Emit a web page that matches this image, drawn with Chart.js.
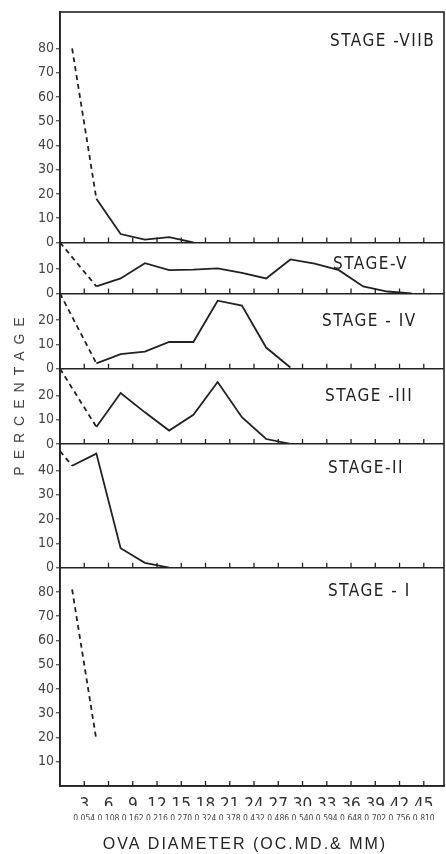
<!DOCTYPE html>
<html>
<head>
<meta charset="utf-8">
<title>Ova diameter frequency by maturity stage</title>
<script src="https://cdn.jsdelivr.net/npm/chart.js@4.4.1/dist/chart.umd.min.js"></script>
<style>
  html, body { margin: 0; padding: 0; background: #fff; }
  canvas { display: block; }
</style>
</head>
<body>
<canvas id="ovaChart" width="446" height="854"></canvas>
<script>
'use strict'
// class mid points in ocular micrometer divisions, 0 = dashed lead-in from the panel above
const ovaClass = [0, 1.5, 4.5, 7.5, 10.5, 13.5, 16.5, 19.5, 22.5, 25.5, 28.5, 31.5, 34.5, 37.5, 40.5, 43.5];
const xTicks = [3, 6, 9, 12, 15, 18, 21, 24, 27, 30, 33, 36, 39, 42, 45];
const mmLabels = ['0.054', '0.108', '0.162', '0.216', '0.270', '0.324', '0.378', '0.432',
  '0.486', '0.540', '0.594', '0.648', '0.702', '0.756', '0.810'];

const stageNames = ['STAGE -VIIB', 'STAGE-V', 'STAGE - IV', 'STAGE -III', 'STAGE-II', 'STAGE - I'];

// percentage per class, same order as ovaClass
const stageVIIB = [null, 80, 18, 3.5, 1.2, 2.2, 0, null, null, null, null, null, null, null, null, null];
const stageV = [21, null, 2.9, 6.2, 12.5, 9.6, 9.8, 10.3, 8.5, 6.2, 14, 12.3, 9.6, 2.9, 0.8, 0];
const stageIV = [31, null, 2.2, 6, 7, 11, 11, 28, 26, 8.7, 0.5, null, null, null, null, null];
const stageIII = [31, null, 7, 21, 13, 5.5, 12, 25.5, 11, 2, 0, null, null, null, null, null];
const stageII = [48, 42, 47, 8, 2, 0, null, null, null, null, null, null, null, null, null, null];
const stageI = [null, 81, 19, null, null, null, null, null, null, null, null, null, null, null, null, null];

const ticksVIIB = [0, 10, 20, 30, 40, 50, 60, 70, 80];
const ticksV = [0, 10];
const ticksIV = [0, 10, 20];
const ticksIII = [0, 10, 20];
const ticksII = [0, 10, 20, 30, 40];
const ticksI = [10, 20, 30, 40, 50, 60, 70, 80];

// top of each panel's y range
const panelMax = [95, 21, 31, 31, 51, 90];

const panelIds = ['yVIIB', 'yV', 'yIV', 'yIII', 'yII', 'yI'];
const panelData = [stageVIIB, stageV, stageIV, stageIII, stageII, stageI];
const panelTicks = [ticksVIIB, ticksV, ticksIV, ticksIII, ticksII, ticksI];

const ink = '#222';
const narrow = '"Liberation Sans Narrow", "DejaVu Sans Condensed", "Liberation Sans", sans-serif';

function yScale(i) {
  return {
    type: 'linear',
    position: 'left',
    stack: 'stages',
    stackWeight: panelMax[i],
    weight: panelIds.length - i,
    min: 0,
    max: panelMax[i],
    afterBuildTicks: s => { s.ticks = panelTicks[i].map(v => ({value: v})); },
    afterFit: s => { s.width = 60; },
    border: {display: true, color: ink, width: 1.6},
    grid: {
      color: c => (c.tick && c.tick.value === 0 ? ink : 'rgba(0,0,0,0)'),
      lineWidth: 1.6,
      tickColor: ink,
      tickLength: 4,
      tickWidth: 1
    },
    ticks: {
      color: '#444',
      padding: 2,
      autoSkip: false,
      font: {family: narrow, size: 14}
    }
  };
}

const scales = {
  x: {
    type: 'linear',
    position: 'bottom',
    min: 0,
    max: 47.5,
    weight: 0,
    afterBuildTicks: s => { s.ticks = xTicks.map(v => ({value: v})); },
    afterFit: s => { s.height = 20; },
    border: {display: true, color: ink, width: 1.6},
    grid: {display: false},
    ticks: {color: '#333', padding: 1, maxRotation: 0, autoSkip: false, font: {family: narrow, size: 17}}
  },
  xmm: {
    type: 'linear',
    position: 'bottom',
    min: 0,
    max: 47.5,
    weight: 1,
    afterBuildTicks: s => { s.ticks = xTicks.map(v => ({value: v})); },
    afterFit: s => { s.height = 14; },
    border: {display: false},
    grid: {display: false},
    ticks: {
      color: '#444', padding: 0, maxRotation: 0, autoSkip: false,
      font: {family: narrow, size: 8.5},
      callback: (v, i) => mmLabels[i]
    }
  }
};
panelIds.forEach((id, i) => { scales[id] = yScale(i); });

const datasets = panelIds.map((id, i) => {
  const values = panelData[i];
  const first = values.findIndex(v => v !== null);
  const second = values.findIndex((v, j) => j > first && v !== null);
  return {
    label: stageNames[i],
    yAxisID: id,
    data: ovaClass.map((x, j) => ({x: x, y: values[j]})),
    borderColor: ink,
    borderWidth: 1.8,
    pointRadius: 0,
    pointHoverRadius: 0,
    spanGaps: true,
    tension: 0,
    segment: {
      // the first stretch of every stage is drawn dashed
      borderDash: ctx => (ctx.p1DataIndex === second ? [5, 4] : undefined)
    }
  };
});

// frame, inner ticks on each baseline, stage names and axis titles
const labelX = [330, 333, 322, 325, 328, 328];
const labelOffset = [30, 22, 28, 28, 25, 24];
const decorations = {
  id: 'decorations',
  afterDraw(chart) {
    const {ctx, chartArea} = chart;
    const sc = chart.scales;
    ctx.save();
    ctx.strokeStyle = ink;
    ctx.lineWidth = 1.6;
    ctx.strokeRect(chartArea.left, chartArea.top, chartArea.width, chartArea.height);

    ctx.lineWidth = 1.3;
    panelIds.forEach(id => {
      const base = sc[id].getPixelForValue(0);
      ctx.beginPath();
      xTicks.forEach(v => {
        const px = sc.x.getPixelForValue(v);
        ctx.moveTo(px, base);
        ctx.lineTo(px, base - 5);
      });
      ctx.stroke();
    });

    ctx.fillStyle = '#222';
    ctx.textBaseline = 'middle';
    ctx.textAlign = 'left';
    ctx.font = '17px ' + narrow;
    ctx.letterSpacing = '1.5px';
    panelIds.forEach((id, i) => {
      ctx.fillText(stageNames[i], labelX[i], sc[id].top + labelOffset[i]);
    });

    ctx.fillStyle = '#444';
    ctx.textAlign = 'center';
    ctx.font = '14px "Liberation Sans", sans-serif';
    ctx.letterSpacing = '7px';
    ctx.save();
    ctx.translate(20, chartArea.top + 381);
    ctx.rotate(-Math.PI / 2);
    ctx.fillText('PERCENTAGE', 0, 0);
    ctx.restore();

    ctx.fillStyle = '#222';
    ctx.font = '16px "Liberation Sans", sans-serif';
    ctx.letterSpacing = '2px';
    ctx.fillText('OVA DIAMETER (OC.MD.& MM)', 245, chart.height - 9);
    ctx.restore();
  }
};

const chart = new Chart(document.getElementById('ovaChart'), {
  type: 'line',
  data: {datasets: datasets},
  options: {
    responsive: false,
    animation: false,
    layout: {padding: {top: 12, right: 2, bottom: 34, left: 0}},
    plugins: {legend: {display: false}, tooltip: {enabled: false}},
    scales: scales
  },
  plugins: [decorations]
});
</script>
</body>
</html>
